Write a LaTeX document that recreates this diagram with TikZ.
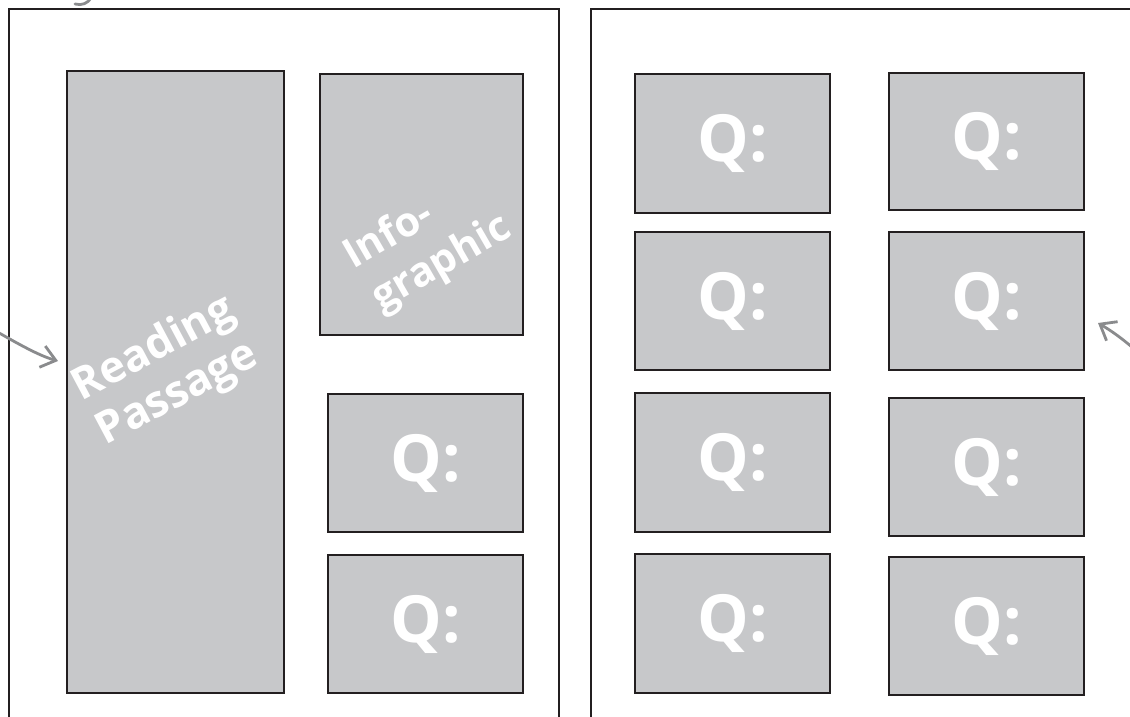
\documentclass[tikz,border=0pt]{standalone}
\usepackage{fontspec}
\setmainfont{Open Sans}
\usetikzlibrary{arrows.meta}
\definecolor{boxfill}{HTML}{C7C8CA}
\definecolor{boxline}{HTML}{231F20}
\definecolor{arrowgray}{HTML}{8A8B8D}
\begin{document}
\begin{tikzpicture}[x=1pt,y=-1pt,
  page/.style={draw=boxline,line width=2.8pt,fill=white},
  pbox/.style={draw=boxline,line width=2.8pt,fill=boxfill,inner sep=0pt},
  qtext/.style={text=white,font=\fontsize{65}{65}\selectfont\bfseries,inner sep=0pt},
  rtext/.style={text=white,font=\fontsize{44}{51}\selectfont\bfseries,inner sep=0pt},
  pointer/.style={draw=arrowgray,line width=2.8pt,-{Straight Barb[length=14pt,width=22pt,line width=2.8pt]}}]
\useasboundingbox (0,0) rectangle (1130,717);
\clip (0,0) rectangle (1130,717);
% pages
\path[page] (9,9) rectangle (559,740);
\path[page] (591,9) rectangle (1150,740);
% left page boxes
\node[pbox,minimum width=217pt,minimum height=622pt] (rp) at (175.5,382) {};
\node[rtext,align=center,rotate=28] (rpt) at (166,372) {Reading\\Passage};
\node[pbox,minimum width=203pt,minimum height=261pt] (ig) at (421.5,204.5) {};
\node[rtext,align=left,rotate=30,font=\fontsize{41}{50}\selectfont\bfseries] (igt) at (428,243) {Info-\\\hspace*{4pt}graphic};
\node[pbox,minimum width=195pt,minimum height=138pt] (lq1) at (425.5,463) {};
\node[qtext] (lq1t) at (lq1) {Q:};
\node[pbox,minimum width=195pt,minimum height=138pt] (lq2) at (425.5,624) {};
\node[qtext] (lq2t) at (lq2) {Q:};
% right page boxes, column 1
\node[pbox,minimum width=195pt,minimum height=139pt] (a1) at (732.5,143.5) {};
\node[qtext] at (a1) {Q:};
\node[pbox,minimum width=195pt,minimum height=138pt] (a2) at (732.5,301) {};
\node[qtext] at (a2) {Q:};
\node[pbox,minimum width=195pt,minimum height=139pt] (a3) at (732.5,462.5) {};
\node[qtext] at (a3) {Q:};
\node[pbox,minimum width=195pt,minimum height=139pt] (a4) at (732.5,623.5) {};
\node[qtext] at (a4) {Q:};
% right page boxes, column 2
\node[pbox,minimum width=195pt,minimum height=137pt] (b1) at (986.5,141.5) {};
\node[qtext] at (b1) {Q:};
\node[pbox,minimum width=195pt,minimum height=138pt] (b2) at (986.5,301) {};
\node[qtext] at (b2) {Q:};
\node[pbox,minimum width=195pt,minimum height=138pt] (b3) at (986.5,467) {};
\node[qtext] at (b3) {Q:};
\node[pbox,minimum width=195pt,minimum height=138pt] (b4) at (986.5,626) {};
\node[qtext] at (b4) {Q:};
% pointers
\coordinate (la0) at (-6,330);
\coordinate (la1) at (58,361);
\draw[pointer] (la0) .. controls (20,345) and (40,356) .. (la1);
\coordinate (ra0) at (1140,354);
\coordinate (ra1) at (1098,323);
\draw[pointer] (ra0) .. controls (1122,338) and (1110,330) .. (ra1);
\draw[draw=arrowgray,line width=2.8pt,line cap=round] (75,4) .. controls (82,6) and (88,3) .. (91,-2);
\end{tikzpicture}
\end{document}
